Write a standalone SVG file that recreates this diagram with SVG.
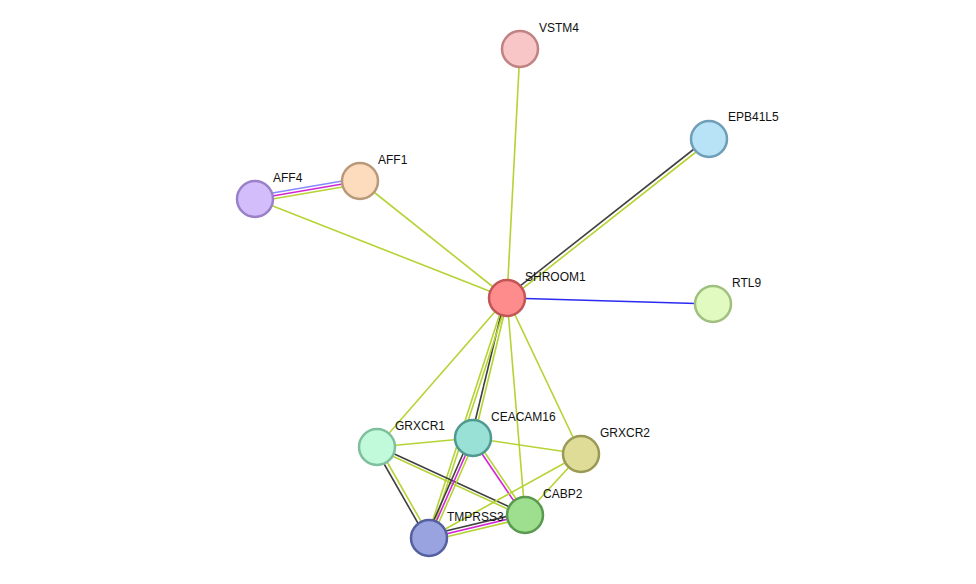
<svg xmlns="http://www.w3.org/2000/svg" width="976" height="584" viewBox="0 0 976 584">
<style>
.e{stroke-width:1.6;fill:none}
.y{stroke:#b5d334}.k{stroke:#404040}.m{stroke:#d326d3}.b{stroke:#2a2af0}.lb{stroke:#8888ff}
circle{stroke-width:2.5}
text{font-family:"Liberation Sans",Arial,sans-serif;font-size:12px;fill:#111}
</style>
<rect width="976" height="584" fill="#fff"/>
<g id="connectors">
<line class="e y" x1="507" y1="298" x2="520" y2="49"/>
<line class="e k" x1="506" y1="297" x2="708" y2="138"/>
<line class="e y" x1="508" y1="300" x2="710" y2="141"/>
<line class="e y" x1="507" y1="298" x2="360" y2="181"/>
<line class="e y" x1="507" y1="298" x2="255" y2="199"/>
<line class="e lb" x1="255" y1="196" x2="360" y2="178"/>
<line class="e m" x1="255" y1="199" x2="360" y2="181"/>
<line class="e y" x1="255" y1="202" x2="360" y2="184"/>
<line class="e b" x1="507" y1="298" x2="713" y2="304"/>
<line class="e y" x1="507" y1="298" x2="377" y2="447"/>
<line class="e k" x1="505" y1="298" x2="471" y2="438"/>
<line class="e y" x1="508" y1="298" x2="474" y2="438"/>
<line class="e y" x1="505" y1="298" x2="427" y2="538"/>
<line class="e y" x1="508" y1="298" x2="430" y2="538"/>
<line class="e y" x1="507" y1="298" x2="525" y2="515"/>
<line class="e y" x1="507" y1="298" x2="581" y2="454"/>
<line class="e y" x1="377" y1="447" x2="473" y2="438"/>
<line class="e k" x1="375" y1="448" x2="427" y2="539"/>
<line class="e y" x1="378" y1="446" x2="430" y2="537"/>
<line class="e k" x1="377" y1="446" x2="525" y2="514"/>
<line class="e y" x1="377" y1="449" x2="525" y2="517"/>
<line class="e y" x1="473" y1="438" x2="581" y2="454"/>
<line class="e m" x1="472" y1="439" x2="524" y2="516"/>
<line class="e y" x1="475" y1="438" x2="527" y2="515"/>
<line class="e k" x1="470" y1="438" x2="426" y2="538"/>
<line class="e m" x1="473" y1="438" x2="429" y2="538"/>
<line class="e y" x1="476" y1="438" x2="432" y2="538"/>
<line class="e y" x1="581" y1="454" x2="525" y2="515"/>
<line class="e y" x1="581" y1="454" x2="429" y2="538"/>
<line class="e k" x1="429" y1="535" x2="525" y2="512"/>
<line class="e m" x1="429" y1="538" x2="525" y2="515"/>
<line class="e y" x1="429" y1="541" x2="525" y2="518"/>
</g>
<g id="VSTM4"><circle cx="520" cy="49" r="18" fill="#f8c6c6" stroke="#c08282"/><text x="539" y="32">VSTM4</text></g>
<g id="EPB41L5"><circle cx="709" cy="139" r="18" fill="#b8e2f6" stroke="#6e9eb8"/><text x="728" y="121">EPB41L5</text></g>
<g id="AFF1"><circle cx="360" cy="181" r="18" fill="#fddcbd" stroke="#b89a7a"/><text x="378" y="164">AFF1</text></g>
<g id="AFF4"><circle cx="255" cy="199" r="18" fill="#d3bdfa" stroke="#9a80c8"/><text x="273" y="182">AFF4</text></g>
<g id="SHROOM1"><circle cx="507" cy="298" r="18" fill="#ff8c8c" stroke="#c05656"/><text x="525" y="281">SHROOM1</text></g>
<g id="RTL9"><circle cx="713" cy="304" r="18" fill="#e0fac0" stroke="#a0c080"/><text x="732" y="287">RTL9</text></g>
<g id="GRXCR1"><circle cx="377" cy="447" r="18" fill="#c0fadb" stroke="#7ec09b"/><text x="395" y="430">GRXCR1</text></g>
<g id="CEACAM16"><circle cx="473" cy="438" r="18" fill="#99e0d6" stroke="#4e9a90"/><text x="491" y="421">CEACAM16</text></g>
<g id="GRXCR2"><circle cx="581" cy="454" r="18" fill="#dfdc98" stroke="#9a9a56"/><text x="600" y="437">GRXCR2</text></g>
<g id="CABP2"><circle cx="525" cy="515" r="18" fill="#9ede8f" stroke="#5a9a50"/><text x="543" y="498">CABP2</text></g>
<g id="TMPRSS3"><circle cx="429" cy="538" r="18" fill="#98a3e0" stroke="#5560a0"/><text x="447" y="521">TMPRSS3</text></g>
</svg>
